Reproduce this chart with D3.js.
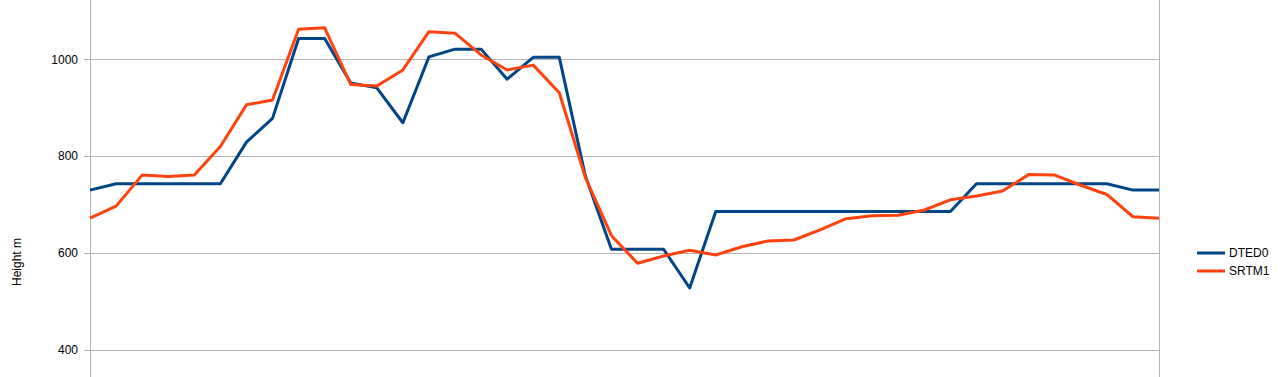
<!DOCTYPE html>
<html>
<head>
    <title>Height profile</title>
    <script src="https://d3js.org/d3.v7.min.js"></script>
    <style>
        body { margin: 0; background: #fff; }
        svg { display: block; font-family: "Liberation Sans", Arial, sans-serif; }
    </style>
</head>
<body>
    <svg id="chart"></svg>
    <script>
        // sample index along the profile
        const samples = d3.range(42);

        const dted0 = [730, 743, 743, 743, 743, 743, 829, 878, 1043, 1043,
            951, 941, 869, 1005, 1021, 1021, 959, 1004, 1004, 759,
            608, 608, 608, 528, 686, 686, 686, 686, 686, 686,
            686, 686, 686, 686, 743, 743, 743, 743, 743, 743,
            730, 730];

        const srtm1 = [672, 697, 761, 758, 761, 820, 906, 916, 1062, 1065,
            948, 945, 978, 1057, 1054, 1009, 978, 988, 931, 756,
            636, 579, 594, 606, 596, 613, 625, 627, 648, 671,
            677, 678, 689, 710, 718, 728, 762, 761, 740, 721,
            675, 672];

        const yTicks = [400, 600, 800, 1000];
        const seriesNames = ["DTED0", "SRTM1"];
        const seriesColors = ["#004586", "#ff420e"];

        const width = 1283, height = 377;
        const left = 90, right = 1159;

        const svg = d3.select("#chart")
            .attr("width", width)
            .attr("height", height);

        const x = d3.scalePoint()
            .domain(samples)
            .range([left, right])
            .padding(0);

        const y = d3.scaleLinear()
            .domain([400, 1000])
            .range([350, 59.3]);

        // grid lines
        svg.append("g")
            .selectAll("line")
            .data(yTicks)
            .join("line")
            .attr("x1", left - 6)
            .attr("x2", right)
            .attr("y1", d => Math.round(y(d)) + 0.5)
            .attr("y2", d => Math.round(y(d)) + 0.5)
            .attr("stroke", "#b3b3b3")
            .attr("stroke-width", 1);

        // axis line + right border
        svg.append("line")
            .attr("x1", left + 0.5).attr("x2", left + 0.5)
            .attr("y1", 0).attr("y2", height)
            .attr("stroke", "#b3b3b3");
        svg.append("line")
            .attr("x1", right + 0.5).attr("x2", right + 0.5)
            .attr("y1", 0).attr("y2", height)
            .attr("stroke", "#b3b3b3");

        // tick labels
        svg.append("g")
            .selectAll("text")
            .data(yTicks)
            .join("text")
            .attr("x", 78)
            .attr("y", d => y(d))
            .attr("dy", "0.35em")
            .attr("text-anchor", "end")
            .attr("font-size", 12)
            .attr("fill", "#000")
            .text(d => d);

        // axis title
        svg.append("text")
            .attr("transform", "translate(21,262) rotate(-90)")
            .attr("text-anchor", "middle")
            .attr("font-size", 12)
            .text("Height m");

        const line = d3.line()
            .x((d, i) => x(samples[i]))
            .y(d => y(d));

        [dted0, srtm1].forEach((s, k) => {
            svg.append("path")
                .datum(s)
                .attr("fill", "none")
                .attr("stroke", seriesColors[k])
                .attr("stroke-width", 3)
                .attr("stroke-linejoin", "round")
                .attr("d", line);
        });

        // legend
        const legend = svg.append("g")
            .selectAll("g")
            .data(seriesNames)
            .join("g")
            .attr("transform", (d, i) => `translate(1197,${253 + i * 18})`);

        legend.append("line")
            .attr("x1", 0).attr("x2", 28)
            .attr("stroke", (d, i) => seriesColors[i])
            .attr("stroke-width", 3);

        legend.append("text")
            .attr("x", 32)
            .attr("dy", "0.35em")
            .attr("font-size", 12)
            .text(d => d);
    </script>
</body>
</html>
